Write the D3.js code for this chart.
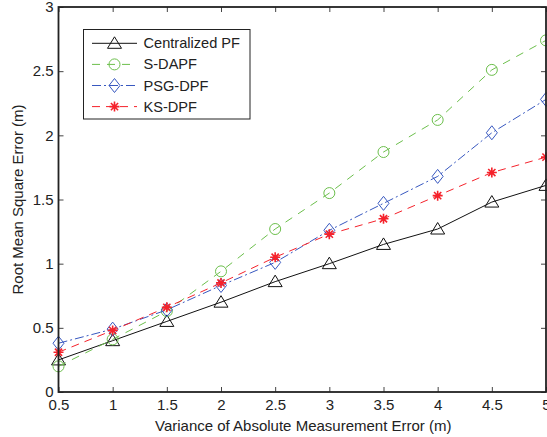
<!doctype html>
<html>
<head>
<meta charset="utf-8"/>
<script src="https://d3js.org/d3.v7.min.js"></script>
<style>
body { margin: 0; background: #fff; }
text { font-family: Arial, "Liberation Sans", sans-serif; fill: #222; }
</style>
</head>
<body>
<script>
// variance values on the x axis
var variance = [0.5, 1, 1.5, 2, 2.5, 3, 3.5, 4, 4.5, 5];
var centralizedPF = [0.25, 0.40, 0.55, 0.70, 0.86, 1.00, 1.15, 1.27, 1.48, 1.61];
var sDAPF        = [0.20, 0.41, 0.63, 0.94, 1.27, 1.55, 1.87, 2.12, 2.51, 2.74];
var psgDPF       = [0.38, 0.49, 0.64, 0.83, 1.01, 1.26, 1.47, 1.68, 2.02, 2.28];
var ksDPF        = [0.31, 0.48, 0.66, 0.85, 1.05, 1.23, 1.35, 1.53, 1.71, 1.83];
var seriesNames  = ["Centralized PF", "S-DAPF", "PSG-DPF", "KS-DPF"];
var xTicks = [0.5, 1, 1.5, 2, 2.5, 3, 3.5, 4, 4.5, 5];
var yTicks = [0, 0.5, 1, 1.5, 2, 2.5, 3];

var W = 547, H = 437;
var pL = 58.5, pR = 546, pT = 7, pB = 392;

var svg = d3.select("body").append("svg").attr("width", W).attr("height", H);

var x = d3.scaleLinear().domain([0.5, 5]).range([pL, pR]);
var y = d3.scaleLinear().domain([0, 3]).range([pB, pT]);

var series = [
  {name: seriesNames[0], vals: centralizedPF, color: "#111", dash: null, mark: "tri"},
  {name: seriesNames[1], vals: sDAPF, color: "#6cbf4c", dash: "8,7", mark: "circ"},
  {name: seriesNames[2], vals: psgDPF, color: "#3858c0", dash: "9,3,2,3", mark: "dia"},
  {name: seriesNames[3], vals: ksDPF, color: "#f5222b", dash: "8,6", mark: "star"}
];

function drawMarker(g, type, cx, cy, color) {
  if (type == "tri") {
    g.append("path").attr("d", "M" + cx + "," + (cy - 6.5) + " L" + (cx + 7) + "," + (cy + 5) + " L" + (cx - 7) + "," + (cy + 5) + " Z")
      .attr("fill", "none").attr("stroke", color).attr("stroke-width", 1);
  } else if (type == "circ") {
    g.append("circle").attr("cx", cx).attr("cy", cy).attr("r", 5.5)
      .attr("fill", "none").attr("stroke", color).attr("stroke-width", 1);
  } else if (type == "dia") {
    g.append("path").attr("d", "M" + cx + "," + (cy - 7) + " L" + (cx + 5.5) + "," + cy + " L" + cx + "," + (cy + 7) + " L" + (cx - 5.5) + "," + cy + " Z")
      .attr("fill", "none").attr("stroke", color).attr("stroke-width", 1);
  } else {
    var r = 5;
    var d = "M" + (cx - r) + "," + cy + " L" + (cx + r) + "," + cy +
      " M" + cx + "," + (cy - r) + " L" + cx + "," + (cy + r) +
      " M" + (cx - 3.6) + "," + (cy - 3.6) + " L" + (cx + 3.6) + "," + (cy + 3.6) +
      " M" + (cx - 3.6) + "," + (cy + 3.6) + " L" + (cx + 3.6) + "," + (cy - 3.6);
    g.append("path").attr("d", d).attr("fill", "none").attr("stroke", color).attr("stroke-width", 1.6);
  }
}

// lines + markers
var plot = svg.append("g");
series.forEach(function(s) {
  var line = d3.line().x(function(d, i) { return x(variance[i]); }).y(function(d) { return y(d); });
  plot.append("path").datum(s.vals).attr("d", line)
    .attr("fill", "none").attr("stroke", s.color).attr("stroke-width", 1)
    .attr("stroke-dasharray", s.dash);
  s.vals.forEach(function(v, i) { drawMarker(plot, s.mark, x(variance[i]), y(v), s.color); });
});

// axes (ticks inward, box on all sides)
var tick = 5;
var ax = svg.append("g");
ax.append("g").attr("transform", "translate(0," + pB + ")")
  .call(d3.axisBottom(x).tickValues(xTicks).tickSize(-tick).tickPadding(7).tickFormat(d3.format("")));
ax.append("g").attr("transform", "translate(0," + pT + ")")
  .call(d3.axisTop(x).tickValues(xTicks).tickSize(-tick).tickFormat(""));
ax.append("g").attr("transform", "translate(" + pL + ",0)")
  .call(d3.axisLeft(y).tickValues(yTicks).tickSize(-tick).tickPadding(5).tickFormat(d3.format("")));
ax.append("g").attr("transform", "translate(" + pR + ",0)")
  .call(d3.axisRight(y).tickValues(yTicks).tickSize(-tick).tickFormat(""));
ax.selectAll(".domain").remove();
ax.selectAll(".tick line").attr("stroke", "#444").attr("stroke-width", 1);
ax.selectAll(".tick text").attr("font-size", 15).attr("fill", "#222");
svg.append("rect").attr("x", pL).attr("y", pT).attr("width", pR - pL).attr("height", pB - pT)
  .attr("fill", "none").attr("stroke", "#222").attr("stroke-width", 1.8);

// axis titles
svg.append("text").attr("x", (pL + pR) / 2 + 1).attr("y", 430.5).attr("text-anchor", "middle")
  .attr("font-size", 15).text("Variance of Absolute Measurement Error (m)");
svg.append("text").attr("transform", "translate(23," + (pT + pB) / 2 + ") rotate(-90)")
  .attr("text-anchor", "middle").attr("font-size", 15).text("Root Mean Square Error (m)");

// legend
var lg = svg.append("g");
lg.append("rect").attr("x", 83.5).attr("y", 29.5).attr("width", 166.5).attr("height", 89.5)
  .attr("fill", "#fff").attr("stroke", "#222").attr("stroke-width", 1);
series.forEach(function(s, i) {
  var ly = 43.3 + i * 21.1;
  lg.append("line").attr("x1", 92).attr("x2", 137).attr("y1", ly).attr("y2", ly)
    .attr("stroke", s.color).attr("stroke-width", 1).attr("stroke-dasharray", s.dash);
  drawMarker(lg, s.mark, 114.5, ly, s.color);
  lg.append("text").attr("x", 143.5).attr("y", ly + 5).attr("font-size", 14.6).text(s.name);
});
</script>
</body>
</html>
